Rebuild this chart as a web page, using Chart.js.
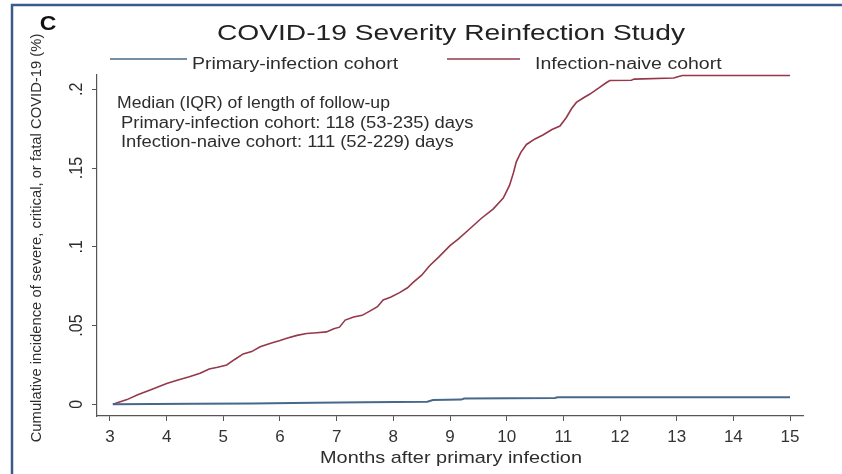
<!DOCTYPE html>
<html>
<head>
<meta charset="utf-8">
<script src="https://cdn.jsdelivr.net/npm/chart.js@4.4.1/dist/chart.umd.min.js"></script>
<style>
  html, body { margin: 0; padding: 0; background: #ffffff; }
  #wrap { position: relative; width: 842px; height: 474px; }
</style>
</head>
<body>
<div id="wrap"><canvas id="c"></canvas></div>
<script>
// ---------------- data ----------------
const chartTitle = 'COVID-19 Severity Reinfection Study';
const panelLetter = 'C';
const seriesLabels = ['Primary-infection cohort', 'Infection-naive cohort'];
const noteLines = [
  'Median (IQR) of length of follow-up',
  'Primary-infection cohort: 118 (53-235) days',
  'Infection-naive cohort: 111 (52-229) days'
];
const xTitle = 'Months after primary infection';
const yTitle = 'Cumulative incidence of severe, critical, or fatal COVID-19 (%)';

const xTickValues = [3, 4, 5, 6, 7, 8, 9, 10, 11, 12, 13, 14, 15];
const yTickValues = [0, 0.05, 0.1, 0.15, 0.2];
const yTickLabels = ['0', '.05', '.1', '.15', '.2'];

const primaryMonths = [3.05, 4.5, 5.5, 6.6, 7.5, 8.6, 8.7, 9.2, 9.25, 10.85, 10.9, 15.0];
const primaryValues = [0, 0.0003, 0.0006, 0.001, 0.0013, 0.0017, 0.0028, 0.003, 0.0037, 0.004, 0.0045, 0.0045];

const naiveMonths = [3.05, 3.3, 3.5, 3.71, 4.0, 4.2, 4.4, 4.59, 4.75, 4.9, 5.06, 5.2, 5.35, 5.5, 5.65,
  5.85, 6.0, 6.12, 6.3, 6.47, 6.65, 6.82, 6.95, 7.05, 7.15, 7.3, 7.45, 7.6, 7.72, 7.82, 7.95, 8.11,
  8.25, 8.35, 8.5, 8.64, 8.8, 9.0, 9.15, 9.35, 9.55, 9.76, 9.94, 10.05, 10.12, 10.17, 10.25, 10.35,
  10.5, 10.64, 10.8, 10.94, 11.05, 11.15, 11.23, 11.35, 11.47, 11.64, 11.75, 11.82, 12.2, 12.25,
  12.95, 13.02, 13.1, 15.0];
const naiveValues = [0, 0.003, 0.0062, 0.0091, 0.0133, 0.0155, 0.0175, 0.0197, 0.0225, 0.0235, 0.025,
  0.0285, 0.032, 0.0335, 0.0366, 0.039, 0.0405, 0.042, 0.0438, 0.045, 0.0455, 0.046, 0.048, 0.049,
  0.0535, 0.0555, 0.0565, 0.0595, 0.062, 0.0663, 0.068, 0.0709, 0.074, 0.0774, 0.082, 0.088, 0.0935,
  0.1008, 0.105, 0.1115, 0.118, 0.124, 0.131, 0.139, 0.147, 0.154, 0.16, 0.165, 0.1685, 0.171,
  0.1745, 0.1767, 0.182, 0.188, 0.1917, 0.1945, 0.197, 0.2013, 0.204, 0.2056, 0.2058, 0.2065,
  0.2072, 0.208, 0.2088, 0.2088];

const seriesColors = ['#46698a', '#94384a'];

// ---------------- helpers ----------------
const FONT = '"Liberation Sans", Arial, Helvetica, sans-serif';
const TEXT_COLOR = '#2d2d2d';

function drawText(ctx, s, x, y, size, o) {
  o = o || {};
  ctx.save();
  ctx.translate(x, y);
  if (o.rot) ctx.rotate(o.rot);
  if (o.rot) ctx.scale(1, o.sx || 1.2); else ctx.scale(o.sx || 1.2, 1);
  ctx.font = (o.weight || 'normal') + ' ' + size + 'px ' + FONT;
  ctx.fillStyle = o.color || TEXT_COLOR;
  ctx.textAlign = o.align || 'left';
  ctx.textBaseline = o.baseline || 'middle';
  ctx.fillText(s, 0, 0);
  ctx.restore();
}

const decorPlugin = {
  id: 'decor',
  afterDraw(chart) {
    const ctx = chart.ctx;
    // frame (top and left edges visible)
    ctx.save();
    ctx.strokeStyle = '#3b5b8c';
    ctx.lineWidth = 2.5;
    ctx.beginPath();
    ctx.moveTo(12, 480); ctx.lineTo(12, 5); ctx.lineTo(850, 5);
    ctx.stroke();
    ctx.restore();

    // panel letter and title
    drawText(ctx, panelLetter, 48, 24, 20, { weight: 'bold', align: 'center', sx: 1.15, color: '#111' });
    drawText(ctx, chartTitle, 451, 40, 22, { align: 'center', baseline: 'alphabetic', sx: 1.28, color: '#222' });

    // legend
    const legendPos = [
      { x0: 110, x1: 187, tx: 192 },
      { x0: 447, x1: 520, tx: 535 }
    ];
    chart.data.datasets.forEach((ds, i) => {
      const p = legendPos[i];
      ctx.save();
      ctx.strokeStyle = ds.borderColor;
      ctx.lineWidth = 1.5;
      ctx.beginPath();
      ctx.moveTo(p.x0, 59); ctx.lineTo(p.x1, 59);
      ctx.stroke();
      ctx.restore();
      drawText(ctx, ds.label, p.tx, 69, 16, { baseline: 'alphabetic', sx: 1.22 });
    });

    // note
    const noteY = [104, 124, 143];
    const noteX = [117, 121, 121];
    const noteSx = [1.1, 1.15, 1.15];
    noteLines.forEach((s, i) => drawText(ctx, s, noteX[i], noteY[i], 16, { sx: noteSx[i] }));

    // y tick labels (rotated), placed by the y scale
    const ys = chart.scales.y;
    yTickValues.forEach((v, i) => {
      drawText(ctx, yTickLabels[i], 77, ys.getPixelForValue(v), 16, { rot: -Math.PI / 2, align: 'center', sx: 1.1 });
    });

    // axis titles
    drawText(ctx, xTitle, 451, 458, 17, { align: 'center', sx: 1.17 });
    drawText(ctx, yTitle, 37, 238, 14.8, { rot: -Math.PI / 2, align: 'center', sx: 1.05 });
  }
};

const toPoints = (xs, ys) => xs.map((x, i) => ({ x: x, y: ys[i] }));

new Chart(document.getElementById('c'), {
  type: 'line',
  data: {
    datasets: [
      {
        label: seriesLabels[0],
        data: toPoints(primaryMonths, primaryValues),
        borderColor: seriesColors[0],
        borderWidth: 2,
        pointRadius: 0,
        tension: 0,
        fill: false,
        clip: false
      },
      {
        label: seriesLabels[1],
        data: toPoints(naiveMonths, naiveValues),
        borderColor: seriesColors[1],
        borderWidth: 1.6,
        pointRadius: 0,
        tension: 0,
        fill: false,
        clip: false
      }
    ]
  },
  options: {
    responsive: true,
    maintainAspectRatio: false,
    animation: false,
    devicePixelRatio: 1,
    layout: { padding: { left: 0, right: 39, top: 75, bottom: 0 } },
    plugins: {
      legend: { display: false },
      title: { display: false },
      tooltip: { enabled: false }
    },
    scales: {
      x: {
        type: 'linear',
        min: 2.7706,
        max: 15.2294,
        afterBuildTicks: (s) => { s.ticks = xTickValues.map(v => ({ value: v })); },
        afterFit: (s) => { s.height = 58; },
        grid: { drawOnChartArea: false, drawTicks: true, tickLength: 5, tickColor: '#555', tickWidth: 1 },
        border: { display: true, color: '#555', width: 1.2 },
        ticks: {
          autoSkip: false,
          maxRotation: 0,
          padding: 6,
          color: '#333',
          font: { family: FONT, size: 17 },
          callback: (v) => String(v)
        }
      },
      y: {
        type: 'linear',
        min: -0.0074,
        max: 0.2091,
        afterBuildTicks: (s) => { s.ticks = yTickValues.map(v => ({ value: v })); },
        afterFit: (s) => { s.width = 97; },
        grid: { drawOnChartArea: false, drawTicks: true, tickLength: 5, tickColor: '#555', tickWidth: 1 },
        border: { display: true, color: '#555', width: 1.2 },
        ticks: { display: false }
      }
    }
  },
  plugins: [decorPlugin]
});
</script>
</body>
</html>
